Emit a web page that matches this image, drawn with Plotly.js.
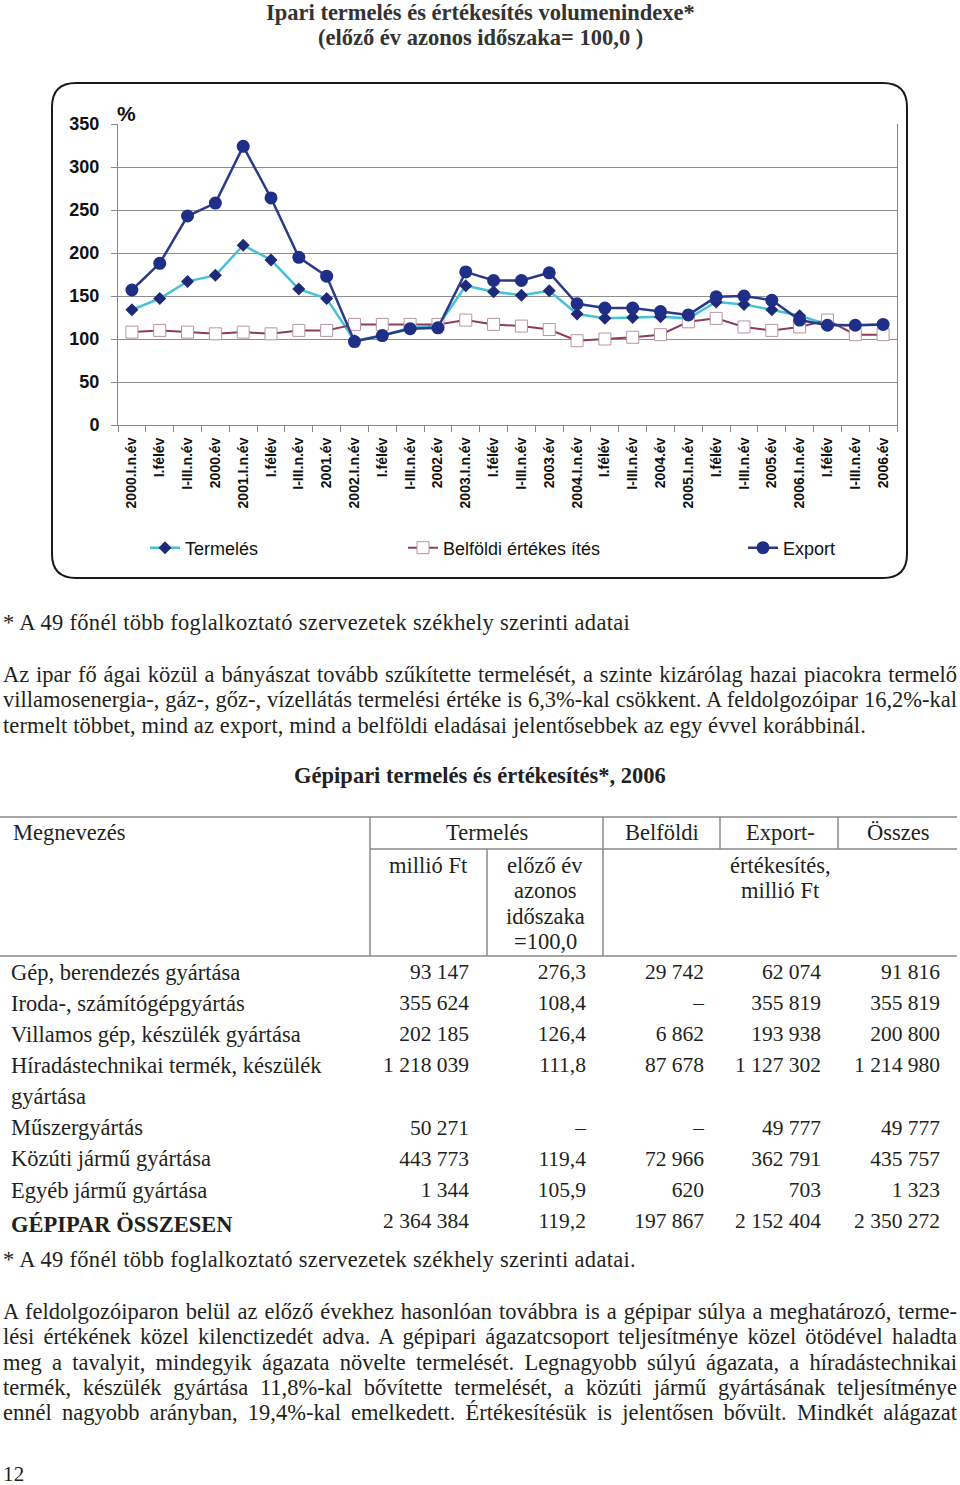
<!DOCTYPE html>
<html>
<head>
<meta charset="utf-8">
<script src="https://cdn.plot.ly/plotly-3.0.1.min.js"></script>
<style>
  body { margin: 0; background: #fff; width: 960px; height: 1485px; position: relative; overflow: hidden; }
  .t { position: absolute; left: 3px; font-family: "Liberation Serif", serif; font-size: 22.5px; letter-spacing: 0.3px; line-height: 25.3px; color: #231f20; white-space: nowrap; }
  .p { position: absolute; left: 3px; width: 954px; font-family: "Liberation Serif", serif; font-size: 22.5px; letter-spacing: 0; word-spacing: -1.5px; line-height: 25.3px; color: #231f20; }
  .p div { text-align: justify; text-align-last: justify; white-space: nowrap; }
  .p div.end { text-align-last: left; word-spacing: 0; letter-spacing: 0.1px; }
  .h { position: absolute; left: 0; width: 960px; text-align: center; font-family: "Liberation Serif", serif; font-weight: bold; font-size: 22.5px; line-height: 25.3px; color: #231f20; }
</style>
</head>
<body>
<div id="grafikon" style="position:absolute;left:0;top:0;width:960px;height:590px"></div>

<div class="t" style="top:610px">* A 49 főnél több foglalkoztató szervezetek székhely szerinti adatai</div>

<div class="p" style="top:662px">
  <div>Az ipar fő ágai közül a bányászat tovább szűkítette termelését, a szinte kizárólag hazai piacokra termelő</div>
  <div>villamosenergia-, gáz-, gőz-, vízellátás termelési értéke is 6,3%-kal csökkent. A feldolgozóipar 16,2%-kal</div>
  <div class="end">termelt többet, mind az export, mind a belföldi eladásai jelentősebbek az egy évvel korábbinál.</div>
</div>

<div class="h" style="top:763px">Gépipari termelés és értékesítés*, 2006</div>

<div id="tabla" style="position:absolute;left:0;top:810px;width:960px;height:440px"></div>

<div class="t" style="top:1247px">* A 49 főnél több foglalkoztató szervezetek székhely szerinti adatai.</div>

<div class="p" style="top:1299px">
  <div>A feldolgozóiparon belül az előző évekhez hasonlóan továbbra is a gépipar súlya a meghatározó, terme-</div>
  <div>lési értékének közel kilenctizedét adva. A gépipari ágazatcsoport teljesítménye közel ötödével haladta</div>
  <div>meg a tavalyit, mindegyik ágazata növelte termelését. Legnagyobb súlyú ágazata, a híradástechnikai</div>
  <div>termék, készülék gyártása 11,8%-kal bővítette termelését, a közúti jármű gyártásának teljesítménye</div>
  <div>ennél nagyobb arányban, 19,4%-kal emelkedett. Értékesítésük is jelentősen bővült. Mindkét alágazat</div>
</div>

<div class="t" style="top:1465px;line-height:18px;font-size:21px">12</div>

<script>
// Időszakok (x tengely feliratai)
const idoszakok = [
    '2000.I.n.év', 'I.félév', 'I-III.n.év', '2000.év',
    '2001.I.n.év', 'I.félév', 'I-III.n.év', '2001.év',
    '2002.I.n.év', 'I.félév', 'I-III.n.év', '2002.év',
    '2003.I.n.év', 'I.félév', 'I-III.n.év', '2003.év',
    '2004.I.n.év', 'I.félév', 'I-III.n.év', '2004.év',
    '2005.I.n.év', 'I.félév', 'I-III.n.év', '2005.év',
    '2006.I.n.év', 'I.félév', 'I-III.n.év', '2006.év'
];

// Volumenindexek, előző év azonos időszaka = 100
const termeles = [134, 147, 167, 174, 209, 192, 158, 147, 98, 104, 113, 115,
                  162, 155, 151, 156, 129, 124, 125, 126, 124, 143, 140, 134, 127, 117, 116, 117];
const belfoldi = [108, 110, 108, 106, 108, 106, 110, 110, 117, 117, 117, 117,
                  122, 117, 115, 111, 98, 100, 102, 105, 120, 124, 114, 110, 114, 122, 105, 105];
const exportIndex = [157, 188, 243, 258, 324, 264, 195, 173, 97, 104, 112, 113,
                     178, 168, 168, 177, 141, 136, 136, 132, 128, 149, 150, 145, 122, 116, 116, 117];

const xPoz = idoszakok.map((_, i) => i);

// pixel -> paper koordináta a grafikonhoz
const PL = 118, PW = 779, PB = 425, PH = 301;
const px = x => (x - PL) / PW;
const py = y => (PB - y) / PH;

const serif = 'Liberation Serif, serif';
const sans = 'Liberation Sans, Arial, sans-serif';

// lekerekített keret
const x0 = px(52), x1 = px(907), y0 = py(83), y1 = py(578);
const rx = 24 / PW, ry = 24 / PH;
const keret = `M ${x0 + rx},${y0} L ${x1 - rx},${y0} Q ${x1},${y0} ${x1},${y0 - ry} ` +
    `L ${x1},${y1 + ry} Q ${x1},${y1} ${x1 - rx},${y1} L ${x0 + rx},${y1} ` +
    `Q ${x0},${y1} ${x0},${y1 + ry} L ${x0},${y0 - ry} Q ${x0},${y0} ${x0 + rx},${y0} Z`;

const adatok = [
    {
        x: xPoz, y: termeles, name: 'Termelés', type: 'scatter', mode: 'lines+markers',
        line: { color: '#45c3d6', width: 2.5 },
        marker: { symbol: 'diamond', size: 10, color: '#1e2a78' },
        legend: 'legend', showlegend: true
    },
    {
        x: xPoz, y: belfoldi, name: 'Belföldi értékes ítés', type: 'scatter', mode: 'lines+markers',
        line: { color: '#8e3b5e', width: 2 },
        marker: { symbol: 'square', size: 12, color: '#ffffff', line: { color: '#b594a6', width: 1 } },
        legend: 'legend2', showlegend: true
    },
    {
        x: xPoz, y: exportIndex, name: 'Export', type: 'scatter', mode: 'lines+markers',
        line: { color: '#2b3a86', width: 2.5 },
        marker: { symbol: 'circle', size: 13, color: '#1f2f88' },
        legend: 'legend3', showlegend: true
    }
];

const legendStilus = (x) => ({
    x: px(x), y: py(548), xanchor: 'left', yanchor: 'middle', orientation: 'h',
    bgcolor: 'rgba(0,0,0,0)', font: { family: sans, size: 18, color: '#111' }
});

const cimSor = (text, y) => ({
    text, xref: 'paper', yref: 'paper', x: px(480), y: py(y), xanchor: 'center', yanchor: 'middle',
    showarrow: false, font: { family: serif, size: 22.5, color: '#333', weight: 'bold' }
});

const elrendezes = {
    width: 960, height: 590,
    margin: { l: PL, r: 960 - PL - PW, t: 124, b: 590 - PB },
    paper_bgcolor: '#fff', plot_bgcolor: '#fff',
    showlegend: true,
    xaxis: {
        range: [-0.5, 27.5], tickmode: 'array', tickvals: xPoz, ticktext: idoszakok,
        tickangle: -90, ticks: '', showgrid: false, zeroline: false,
        showline: true, linecolor: '#888', linewidth: 1,
        tickfont: { family: sans, size: 14, color: '#111', weight: 'bold' },
        ticklabelstandoff: 6,
        minor: { tickmode: 'linear', tick0: -0.5, dtick: 1, ticks: 'outside', ticklen: 6, tickcolor: '#888', showgrid: false }
    },
    yaxis: {
        range: [0, 350], tick0: 0, dtick: 50, ticks: 'outside', ticklen: 6, tickcolor: '#888',
        showgrid: true, gridcolor: '#8f8f8f', gridwidth: 1, zeroline: false,
        showline: true, linecolor: '#888', mirror: true,
        tickfont: { family: sans, size: 18, color: '#111', weight: 'bold' },
        ticklabelstandoff: 8
    },
    legend: legendStilus(145),
    legend2: legendStilus(403),
    legend3: legendStilus(743),
    annotations: [
        cimSor('Ipari termelés és értékesítés volumenindexe*', 12),
        cimSor('(előző év azonos időszaka= 100,0 )', 37),
        { text: '%', xref: 'paper', yref: 'paper', x: px(126), y: py(113), xanchor: 'center', yanchor: 'middle',
          showarrow: false, font: { family: sans, size: 21, color: '#111', weight: 'bold' } }
    ],
    shapes: [
        { type: 'path', xref: 'paper', yref: 'paper', path: keret, line: { color: '#1a1a1a', width: 2 }, layer: 'below' }
    ]
};

Plotly.newPlot('grafikon', adatok, elrendezes, { staticPlot: true });

// Táblázat adatai
const megnevezes = [
    'Gép, berendezés gyártása',
    'Iroda-, számítógépgyártás',
    'Villamos gép, készülék gyártása',
    'Híradástechnikai termék, készülék<br>gyártása',
    'Műszergyártás',
    'Közúti jármű gyártása',
    'Egyéb jármű gyártása',
    '<b>GÉPIPAR ÖSSZESEN</b>'
];
const termelesMFt = ['93 147', '355 624', '202 185', '1 218 039', '50 271', '443 773', '1 344', '2 364 384'];
const termelesIndex = ['276,3', '108,4', '126,4', '111,8', '–', '119,4', '105,9', '119,2'];
const belfoldiErt = ['29 742', '–', '6 862', '87 678', '–', '72 966', '620', '197 867'];
const exportErt = ['62 074', '355 819', '193 938', '1 127 302', '49 777', '362 791', '703', '2 152 404'];
const osszesErt = ['91 816', '355 819', '200 800', '1 214 980', '49 777', '435 757', '1 323', '2 350 272'];

// a két soros megnevezés folytatása külön sorba kerül, üres számcellákkal
const oszlopok = [[], [], [], [], [], []];
megnevezes.forEach((nev, i) => {
    const sorok = nev.split('<br>');
    const szamok = [termelesMFt[i], termelesIndex[i], belfoldiErt[i], exportErt[i], osszesErt[i]];
    oszlopok[0].push(sorok[0]);
    szamok.forEach((v, j) => oszlopok[j + 1].push(v));
    sorok.slice(1).forEach(s => {
        oszlopok[0].push(s);
        for (let j = 1; j < 6; j++) oszlopok[j].push('');
    });
});

const TT = 810, TH = 440;
const tx = x => x / 960;
const ty = y => 1 - (y - TT) / TH;

const vonal = (xa, ya, xb, yb) => ({
    type: 'line', xref: 'paper', yref: 'paper', x0: tx(xa), y0: ty(ya), x1: tx(xb), y1: ty(yb),
    line: { color: '#8a8a8a', width: 1.5 }
});

// fejléc feliratok: [szövegsorok, x, első sor közepe, igazítás]
const fejlec = [
    [['Megnevezés'], 11, 833, 'left'],
    [['Termelés'], 487, 833, 'center'],
    [['Belföldi'], 662, 833, 'center'],
    [['Export-'], 780, 833, 'center'],
    [['Összes'], 898, 833, 'center'],
    [['millió Ft'], 428, 865, 'center'],
    [['előző év', 'azonos', 'időszaka', '=100,0'], 545, 865, 'center'],
    [['értékesítés,', 'millió Ft'], 780, 865, 'center']
];
const fejFeliratok = [];
fejlec.forEach(([sorok, x, y, igazit]) => {
    sorok.forEach((s, k) => fejFeliratok.push({
        text: s, xref: 'paper', yref: 'paper', x: tx(x), y: ty(y + k * 25.6),
        xanchor: igazit, yanchor: 'middle', showarrow: false,
        font: { family: serif, size: 22.5, color: '#231f20' }
    }));
});

const tablaAdat = [{
    type: 'table',
    domain: { x: [tx(3), tx(948)], y: [0, ty(954)] },
    columnwidth: [366, 108, 117, 118, 117, 119],
    header: {
        values: ['', '', '', '', '', ''], height: 1,
        line: { width: 0, color: 'rgba(0,0,0,0)' }, fill: { color: 'rgba(0,0,0,0)' },
        font: { size: 1 }
    },
    cells: {
        values: oszlopok,
        align: ['left', 'right', 'right', 'right', 'right', 'right'],
        height: 31.1,
        line: { width: 0, color: 'rgba(0,0,0,0)' },
        fill: { color: 'rgba(0,0,0,0)' },
        font: {
            family: [serif, serif, serif, serif, serif, serif],
            size: [22.5, 21.5, 21.5, 21.5, 21.5, 21.5],
            color: ['#231f20', '#231f20', '#231f20', '#231f20', '#231f20', '#231f20']
        }
    }
}];

const tablaElrendezes = {
    width: 960, height: TH,
    margin: { l: 0, r: 0, t: 0, b: 0 },
    paper_bgcolor: 'rgba(0,0,0,0)',
    shapes: [
        vonal(0, 817, 957, 817),
        vonal(370, 849, 957, 849),
        vonal(0, 956, 957, 956),
        vonal(370, 817, 370, 956),
        vonal(487, 849, 487, 956),
        vonal(603, 817, 603, 956),
        vonal(720, 817, 720, 849),
        vonal(838, 817, 838, 849)
    ],
    annotations: fejFeliratok
};

Plotly.newPlot('tabla', tablaAdat, tablaElrendezes, { staticPlot: true });
</script>
</body>
</html>
